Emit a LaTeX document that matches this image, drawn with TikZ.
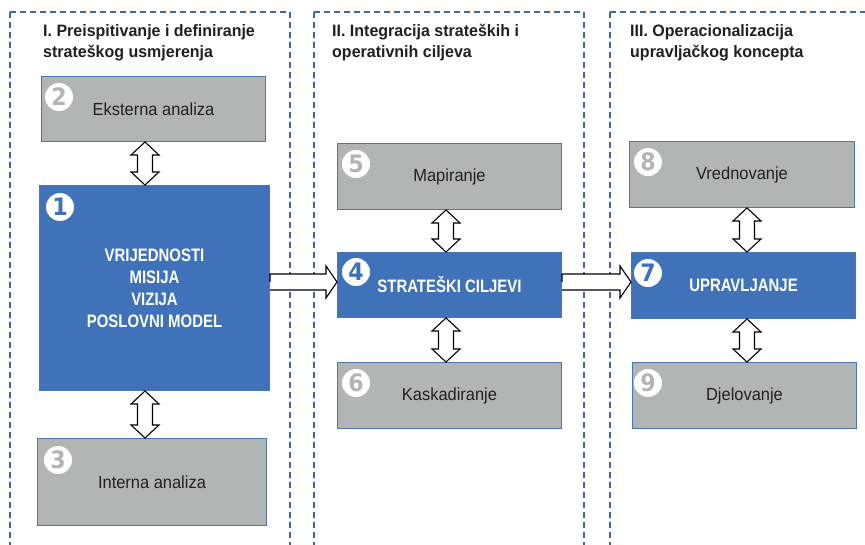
\documentclass[tikz,border=0pt]{standalone}
\usepackage{fontspec}
\setmainfont{Liberation Sans}
\newfontfamily\titlefont{Liberation Sans}[FakeStretch=0.97]
\newfontfamily\blufont{Liberation Sans}[FakeStretch=0.83]
\newfontfamily\grayfont{Liberation Sans}[FakeStretch=0.94]
\newfontfamily\numfont{DejaVu Sans}[FakeStretch=0.92]
\usetikzlibrary{calc}
\definecolor{boxblue}{HTML}{3F72B8}
\definecolor{boxgray}{HTML}{B3B5B5}
\definecolor{dashblue}{HTML}{3C6AA8}
\definecolor{edgeblue}{HTML}{4A77B2}
\definecolor{txtgray}{HTML}{231F20}
\newcommand\vdbl[2]{\draw[arrowshape] (#1) -- ($(#1)+(14,13)$) -- ($(#1)+(7.5,13)$) -- ($(#2)+(7.5,-13)$) -- ($(#2)+(14,-13)$) -- (#2) -- ($(#2)+(-14,-13)$) -- ($(#2)+(-7.5,-13)$) -- ($(#1)+(-7.5,13)$) -- ($(#1)+(-14,13)$) -- cycle;}
\newcommand\hsgl[2]{\draw[arrowshape] (#1) -- ($(#1)+(0,-8)$) -- ($(#2)+(-11,-8)$) -- ($(#2)+(-11,-16)$) -- (#2) -- ($(#2)+(-11,16)$) -- ($(#2)+(-11,8)$) -- ($(#1)+(0,8)$);}
\begin{document}
\begin{tikzpicture}[x=1pt,y=-1pt,
  panel/.style={draw=dashblue, line width=1.4pt, dash pattern=on 6pt off 4pt},
  boxbase/.style={draw=edgeblue, line width=1pt, anchor=north west, inner sep=0pt},
  graybox/.style={boxbase, fill=boxgray, text=txtgray, font=\grayfont\fontsize{17.5}{21}\selectfont},
  bluebox/.style={boxbase, fill=boxblue, text=white, align=center, font=\blufont\bfseries\fontsize{18}{22}\selectfont},
  numc/.style={circle, fill=white, inner sep=0pt, minimum size=28pt, font=\numfont\bfseries\fontsize{24}{24}\selectfont},
  title/.style={anchor=north west, inner sep=0pt, align=left, text=txtgray, font=\titlefont\bfseries\fontsize{16.5}{21}\selectfont},
  arrowshape/.style={draw=black, fill=white, line width=1.1pt, line join=miter}]
\useasboundingbox (0,0) rectangle (865,545);
\clip (0,0) rectangle (865,545);
\fill[white] (0,0) rectangle (865,545);
% panels
\draw[panel] (10,12) rectangle (290,580);
\draw[panel] (314,12) rectangle (584,580);
\draw[panel] (610,12) rectangle (900,580);
% titles
\node[title] (t1) at (43,24) {I. Preispitivanje i definiranje\\strateškog usmjerenja};
\node[title] (t2) at (332,24) {II. Integracija strateških i\\operativnih ciljeva};
\node[title] (t3) at (630,24) {III. Operacionalizacija\\upravljačkog koncepta};
% boxes
\node[graybox, minimum width=224pt, minimum height=65pt] (b2) at (41,76) {Eksterna analiza};
\node[bluebox, minimum width=230pt, minimum height=205pt] (b1) at (39,185) {VRIJEDNOSTI\\MISIJA\\VIZIJA\\POSLOVNI MODEL};
\node[graybox, minimum width=229pt, minimum height=87pt] (b3) at (37,438) {Interna analiza};
\node[graybox, minimum width=224pt, minimum height=66pt] (b5) at (337,143) {Mapiranje};
\node[bluebox, minimum width=224pt, minimum height=65pt] (b4) at (337,252) {STRATEŠKI CILJEVI};
\node[graybox, minimum width=224pt, minimum height=66pt] (b6) at (337,362) {Kaskadiranje};
\node[graybox, minimum width=225pt, minimum height=66pt] (b8) at (629,141) {Vrednovanje};
\node[bluebox, minimum width=224pt, minimum height=66pt] (b7) at (631,252) {UPRAVLJANJE};
\node[graybox, minimum width=224pt, minimum height=66pt] (b9) at (632,362) {Djelovanje};
% numbers
\node[numc, text=boxgray] (n2) at ($(b2.north west)+(18,21)$) {2};
\node[numc, text=boxblue] (n1) at ($(b1.north west)+(21,22)$) {1};
\node[numc, text=boxgray] (n3) at ($(b3.north west)+(21,22)$) {3};
\node[numc, text=boxgray] (n5) at ($(b5.north west)+(19,21)$) {5};
\node[numc, text=boxblue] (n4) at ($(b4.north west)+(19,20)$) {4};
\node[numc, text=boxgray] (n6) at ($(b6.north west)+(19,21)$) {6};
\node[numc, text=boxgray] (n8) at ($(b8.north west)+(19,21)$) {8};
\node[numc, text=boxblue] (n7) at ($(b7.north west)+(17,21)$) {7};
\node[numc, text=boxgray] (n9) at ($(b9.north west)+(16,21)$) {9};
% arrows
\coordinate (ax1) at (145,0);
\coordinate (ax2) at (446,0);
\coordinate (ax3) at (747,0);
\coordinate (hy) at (0,282);
\vdbl{b2.south -| ax1}{b1.north -| ax1}
\vdbl{b1.south -| ax1}{b3.north -| ax1}
\vdbl{b5.south -| ax2}{b4.north -| ax2}
\vdbl{b4.south -| ax2}{b6.north -| ax2}
\vdbl{b8.south -| ax3}{b7.north -| ax3}
\vdbl{b7.south -| ax3}{b9.north -| ax3}
\hsgl{b1.east |- hy}{b4.west |- hy}
\hsgl{b4.east |- hy}{b7.west |- hy}
\end{tikzpicture}
\end{document}
